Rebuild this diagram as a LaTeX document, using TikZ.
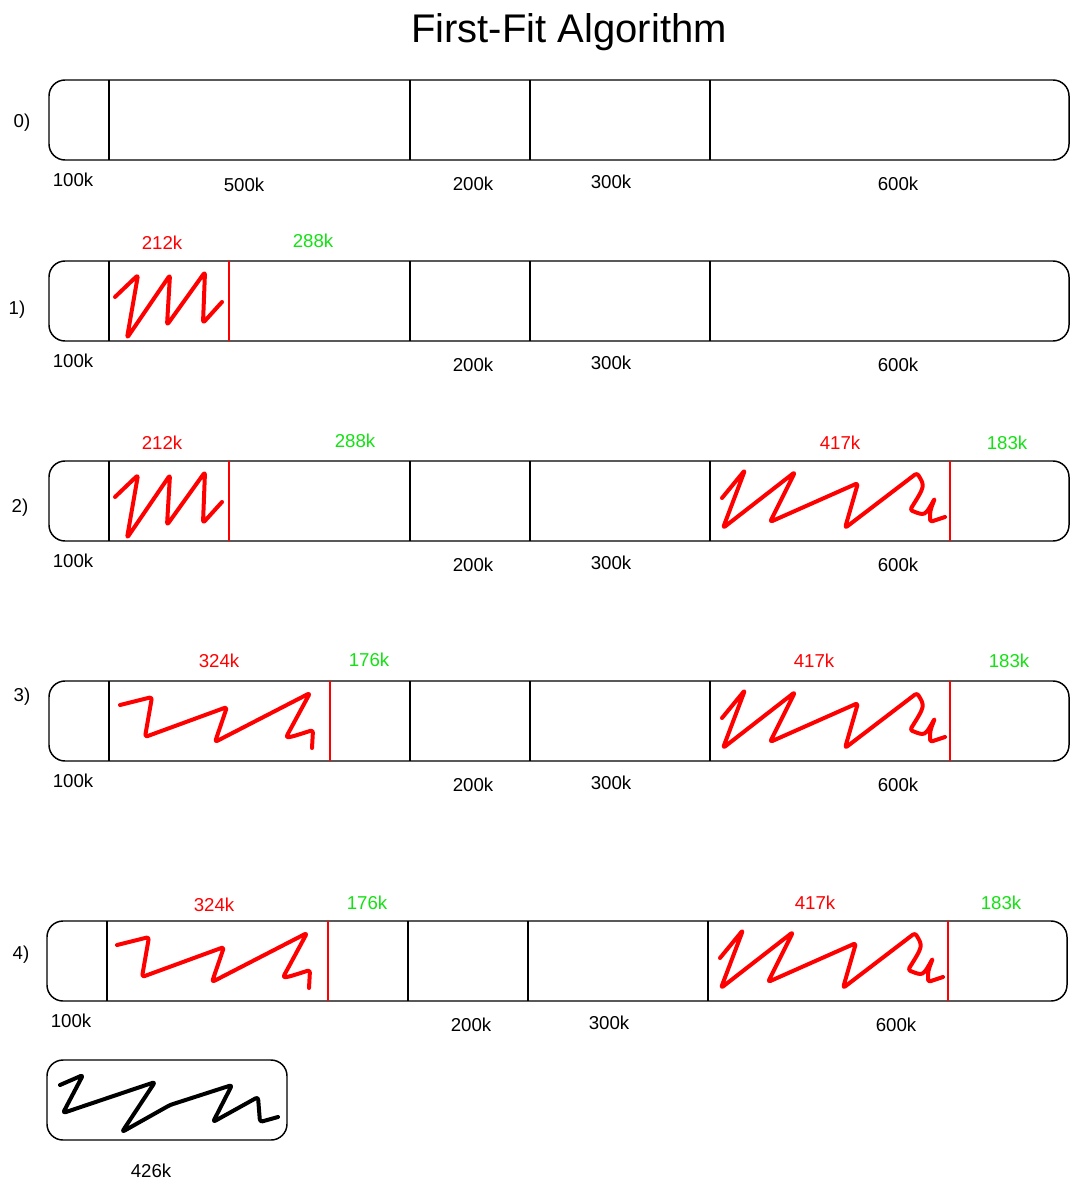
\documentclass[tikz,border=0pt]{standalone}
\usepackage{fontspec}
\setmainfont{Liberation Sans}
\definecolor{mred}{RGB}{255,0,0}
\definecolor{mgreen}{RGB}{20,225,20}
\begin{document}
\begin{tikzpicture}[x=0.75pt,y=-0.75pt,
  mem/.style={draw=black, line width=1.1pt, rounded corners=12pt},
  divline/.style={draw=black, line width=1pt},
  rdiv/.style={draw=mred, line width=0.8pt},
  scrib/.style={line width=3pt, line cap=round, line join=round, rounded corners=2pt},
  lbl/.style={font=\fontsize{14}{16}\selectfont, text=black, inner sep=0pt},
  rlbl/.style={lbl, text=mred},
  glbl/.style={lbl, text=mgreen},
  ttl/.style={font=\fontsize{30}{34}\selectfont, inner sep=0pt},
  zigA/.pic={\draw[scrib, draw=mred] (115,36) -- (138,14) -- (127,77) -- (170,14) -- (167,64) -- (205,11) -- (203,62) -- (222,41);},
  zigB/.pic={\draw[scrib, draw=mred] (722,37) -- (745,9) -- (723,67) -- (795,11) -- (770,61) -- (858,22) -- (845,67) -- (917,12) .. controls (925,25) .. (910,49) .. controls (925,55) .. (935,37) .. controls (930,50) .. (930,61) -- (945,56);},
  zigC/.pic={\draw[scrib, draw=mred] (120,24) -- (152,16) -- (145,56) -- (227,26) -- (215,61) -- (310,12) -- (290,49) .. controls (285,58) .. (313,49) -- (312,67);}
]
\useasboundingbox (0,0) rectangle (1079,1194);

\node[ttl] (title) at (569,32) {First-Fit Algorithm};

% common parts of the five rows
\foreach \t/\s/\dx in {80/0/0, 261/1/0, 461/2/0, 681/3/0, 921/4/-2} {
  \begin{scope}[shift={(\dx,\t)}]
    \draw[mem] (49,0) rectangle (1069,80);
    \draw[divline] (109,0) -- (109,80);
    \draw[divline] (410,0) -- (410,80);
    \draw[divline] (530,0) -- (530,80);
    \draw[divline] (710,0) -- (710,80);
    \node[lbl] (r\s-100k) at (73,100) {100k};
    \node[lbl] (r\s-200k) at (473,104) {200k};
    \node[lbl] (r\s-300k) at (611,102) {300k};
    \node[lbl] (r\s-600k) at (898,104) {600k};
  \end{scope}
}

% row labels
\node[lbl] (n0) at (22,123) {0)};
\node[lbl] (n1) at (17,310) {1)};
\node[lbl] (n2) at (20,508) {2)};
\node[lbl] (n3) at (22,697) {3)};
\node[lbl] (n4) at (21,955) {4)};

% row 0
\node[lbl] (r0-500k) at (244,185) {500k};

% row 1
\draw[rdiv] (229,261) -- (229,341);
\pic at (0,261) {zigA};
\node[rlbl] (r1-212k) at (162,243) {212k};
\node[glbl] (r1-288k) at (313,241) {288k};

% row 2
\draw[rdiv] (229,461) -- (229,541);
\draw[rdiv] (950,461) -- (950,541);
\pic at (0,461) {zigA};
\pic at (0,461) {zigB};
\node[rlbl] (r2-212k) at (162,443) {212k};
\node[glbl] (r2-288k) at (355,441) {288k};
\node[rlbl] (r2-417k) at (840,443) {417k};
\node[glbl] (r2-183k) at (1007,443) {183k};

% row 3
\draw[rdiv] (330,681) -- (330,761);
\draw[rdiv] (950,681) -- (950,761);
\pic at (0,681) {zigC};
\pic at (0,681) {zigB};
\node[rlbl] (r3-324k) at (219,661) {324k};
\node[glbl] (r3-176k) at (369,660) {176k};
\node[rlbl] (r3-417k) at (814,661) {417k};
\node[glbl] (r3-183k) at (1009,661) {183k};

% row 4
\draw[rdiv] (328,921) -- (328,1001);
\draw[rdiv] (948,921) -- (948,1001);
\pic at (-3,921) {zigC};
\pic at (-2,921) {zigB};
\node[rlbl] (r4-324k) at (214,905) {324k};
\node[glbl] (r4-176k) at (367,903) {176k};
\node[rlbl] (r4-417k) at (815,903) {417k};
\node[glbl] (r4-183k) at (1001,903) {183k};

% pending process
\draw[mem] (47,1060) rectangle (287,1140);
\draw[scrib, draw=black] (60,1085) -- (83,1075) -- (63,1113) -- (155,1082) -- (122,1132) -- (170,1105) -- (232,1085) -- (213,1122) -- (258,1097) -- (260,1122) -- (278,1117);
\node[lbl] (p-426k) at (151,1171) {426k};
\end{tikzpicture}
\end{document}
